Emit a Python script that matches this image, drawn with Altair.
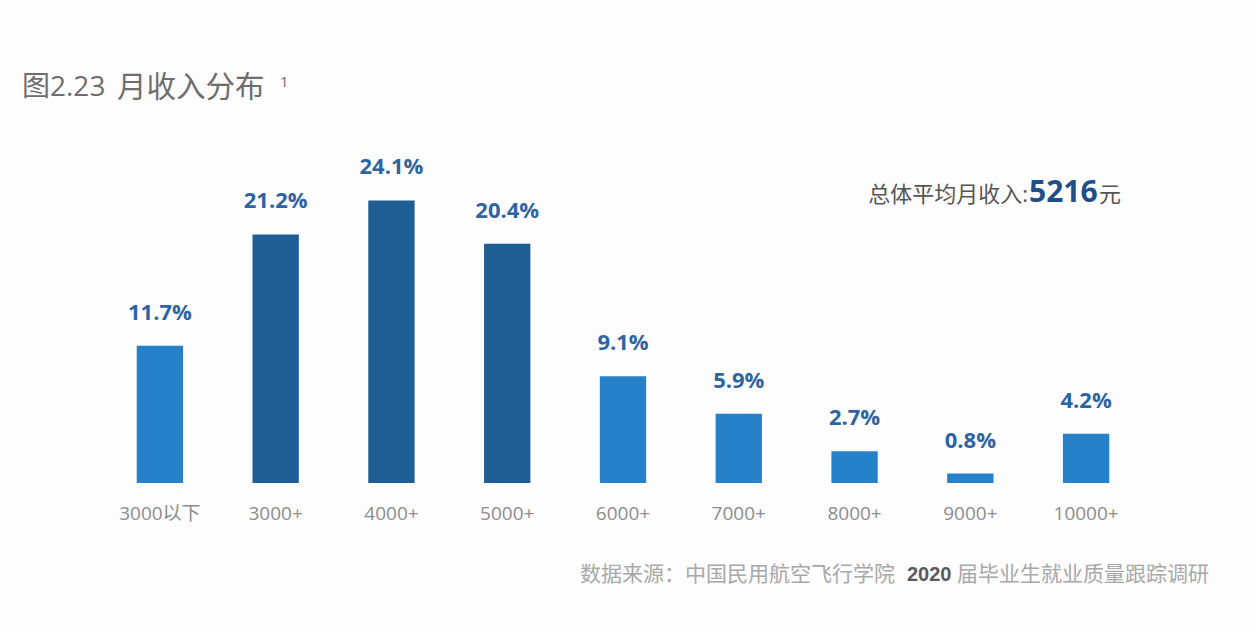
import altair as alt
import pandas as pd

categories = ["3000以下", "3000+", "4000+", "5000+", "6000+", "7000+", "8000+", "9000+", "10000+"]
values = [11.7, 21.2, 24.1, 20.4, 9.1, 5.9, 2.7, 0.8, 4.2]
labels = ["11.7%", "21.2%", "24.1%", "20.4%", "9.1%", "5.9%", "2.7%", "0.8%", "4.2%"]
dark_categories = ["3000+", "4000+", "5000+"]

title_a = "图2.23"
title_b = "月收入分布"
title_note = "1"
avg_label = "总体平均月收入:"
avg_value = "5216"
avg_unit = "元"
source_a = "数据来源：中国民用航空飞行学院"
source_b = "2020"
source_c = "届毕业生就业质量跟踪调研"

FONT = "Open Sans, Noto Sans CJK SC"
CJK = "Noto Sans CJK SC"
LIGHT = "#2781c9"
DARK = "#1f5e95"
LABEL = "#2d65a3"

df = pd.DataFrame({"cat": categories, "val": values, "lab": labels})

x = alt.X("cat:N", sort=categories, title=None,
          scale=alt.Scale(paddingInner=0.6, paddingOuter=0.3),
          axis=alt.Axis(labelAngle=0, labelFontSize=19, labelColor="#8c8c8c",
                        labelFont=FONT, labelPadding=21, domain=False, ticks=False,
                        grid=False))
y = alt.Y("val:Q", scale=alt.Scale(domain=[0, 29]), axis=None)

base = alt.Chart(df)
bars = base.mark_bar().encode(
    x=x, y=y,
    color=alt.condition(alt.FieldOneOfPredicate(field="cat", oneOf=dark_categories),
                        alt.value(DARK), alt.value(LIGHT)),
)
texts = base.mark_text(baseline="bottom", dy=-21, fontSize=22, fontWeight="bold",
                       font=FONT, color=LABEL).encode(x=x, y=y, text="lab:N")


def txt(s, px, py, size, color, align="left", weight="normal", font=FONT):
    return alt.Chart(pd.DataFrame({"t": [s]})).mark_text(
        align=align, baseline="middle", fontSize=size, fontWeight=weight,
        font=font, color=color
    ).encode(x=alt.value(px), y=alt.value(py), text="t:N")


ann = [
    txt(title_a, -80, -55, 28, "#6e6e6e"),
    txt(title_b, 15, -55, 29.5, "#6e6e6e", font=CJK),
    txt(title_note, 178, -61, 15, "#6e6e6e"),
    txt(avg_label, 926, 52, 22, "#555555", align="right"),
    txt(avg_value, 927, 50, 30, "#1f4f86", weight="bold"),
    txt(avg_unit, 997, 52, 22, "#555555"),
    txt(source_a, 793, 432, 21, "#a8a8a8", align="right", font=CJK),
    txt(source_b, 805, 432, 20, "#5a5a5a", weight="bold", font="Liberation Sans"),
    txt(source_c, 855, 432, 21, "#a8a8a8", font=CJK),
]

chart = alt.layer(bars, texts, *ann).properties(
    width=1042, height=340,
    autosize=alt.AutoSizeParams(type="none"),
    padding={"left": 102, "top": 143, "right": 112, "bottom": 151},
    background="#fdfdfe",
).configure_view(stroke=None)

chart.save("out.html", embed_options={"renderer": "svg", "actions": False})
